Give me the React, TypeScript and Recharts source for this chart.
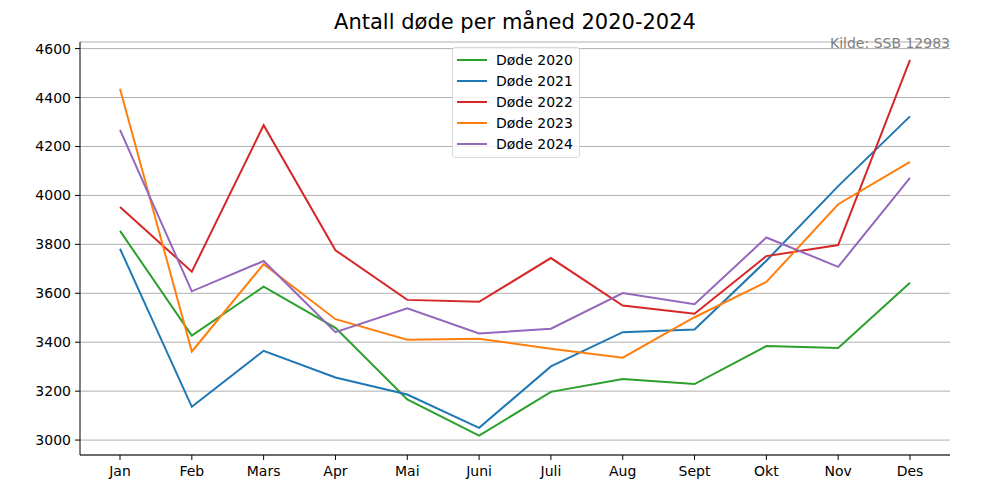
import { LineChart, Line, XAxis, YAxis, CartesianGrid } from "recharts";

const months = ["Jan", "Feb", "Mars", "Apr", "Mai", "Juni", "Juli", "Aug", "Sept", "Okt", "Nov", "Des"];

const dode2020 = [3855, 3427, 3627, 3459, 3166, 3018, 3197, 3250, 3229, 3384, 3376, 3643];
const dode2021 = [3782, 3136, 3365, 3256, 3186, 3050, 3301, 3441, 3452, 3733, 4038, 4323];
const dode2022 = [3953, 3688, 4287, 3776, 3573, 3565, 3744, 3550, 3516, 3752, 3797, 4554];
const dode2023 = [4436, 3362, 3719, 3494, 3410, 3414, 3373, 3337, 3502, 3646, 3964, 4137];
const dode2024 = [4268, 3608, 3732, 3441, 3539, 3436, 3455, 3601, 3555, 3828, 3708, 4072];

const yTicks = [3000, 3200, 3400, 3600, 3800, 4000, 4200, 4400, 4600];

const series = [
  { key: "Døde 2020", values: dode2020, color: "#2ca02c" },
  { key: "Døde 2021", values: dode2021, color: "#1f77b4" },
  { key: "Døde 2022", values: dode2022, color: "#d62728" },
  { key: "Døde 2023", values: dode2023, color: "#ff7f0e" },
  { key: "Døde 2024", values: dode2024, color: "#9467bd" },
];

const data = months.map((m, i) => {
  const row: Record<string, string | number> = { month: m };
  series.forEach((s) => {
    row[s.key] = s.values[i];
  });
  return row;
});

const font = "'DejaVu Sans', sans-serif";

// legend drawn as an overlay so it does not eat chart space
function LegendBox() {
  return (
    <div
      style={{
        position: "absolute",
        left: 452,
        top: 47,
        background: "rgba(255,255,255,0.8)",
        border: "1px solid #d9d9d9",
        borderRadius: 3,
        padding: "1px 6px 3px 4px",
        fontFamily: font,
        fontSize: 14,
        color: "#000",
      }}
    >
      {series.map((s) => (
        <div key={s.key} style={{ display: "flex", alignItems: "center", height: 21 }}>
          <span style={{ display: "inline-block", width: 30, height: 2, background: s.color, marginRight: 9 }} />
          <span>{s.key}</span>
        </div>
      ))}
    </div>
  );
}

export default function App() {
  return (
    <div style={{ position: "absolute", left: 0, top: 0, width: 1000, height: 500, background: "#fff", fontFamily: font }}>
      <LineChart width={1000} height={500} data={data} margin={{ top: 42, right: 50, bottom: 0, left: 0 }}>
        <CartesianGrid vertical={false} stroke="#b0b0b0" strokeWidth={1} />
        <XAxis
          dataKey="month"
          padding={{ left: 40, right: 40 }}
          height={45}
          stroke="#000"
          tickSize={5}
          tickMargin={6}
          tick={{ fill: "#000", fontSize: 14, fontFamily: font }}
        />
        <YAxis
          type="number"
          domain={[2939, 4627]}
          ticks={yTicks}
          allowDataOverflow
          width={80}
          stroke="#000"
          tickSize={5}
          tickMargin={4}
          tick={{ fill: "#000", fontSize: 14, fontFamily: font }}
        />
        {series.map((s) => (
          <Line
            key={s.key}
            dataKey={s.key}
            stroke={s.color}
            strokeWidth={2}
            dot={false}
            isAnimationActive={false}
          />
        ))}
      </LineChart>
      <div style={{ position: "absolute", left: 80, width: 870, top: 10, textAlign: "center", fontSize: 21, color: "#000" }}>
        Antall døde per måned 2020-2024
      </div>
      <div style={{ position: "absolute", right: 50, top: 35, fontSize: 14, color: "#808080" }}>Kilde: SSB 12983</div>
      <LegendBox />
    </div>
  );
}
